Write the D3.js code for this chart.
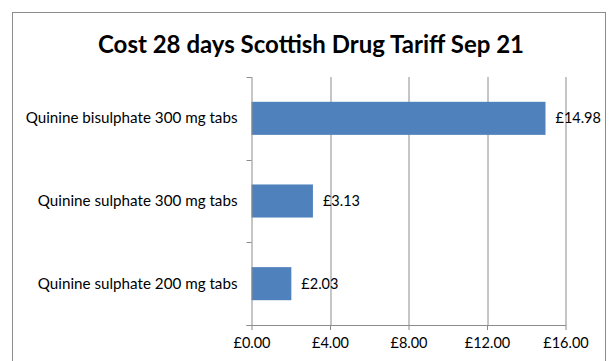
<!DOCTYPE html>
<html>
<head>
<meta charset="utf-8">
<script src="https://cdn.jsdelivr.net/npm/d3@7"></script>
<style>
  body { margin: 0; background: #fff; }
  svg { display: block; }
  svg text { font-family: Lato, "Open Sans", sans-serif; }
</style>
</head>
<body>
<div id="chart"></div>
<script>
var title = "Cost 28 days Scottish Drug Tariff Sep 21";
var categories = ["Quinine bisulphate 300 mg tabs", "Quinine sulphate 300 mg tabs", "Quinine sulphate 200 mg tabs"];
var values = [14.98, 3.13, 2.03];
var xTicks = [0, 4, 8, 12, 16];

var width = 611, height = 361;
var margin = { top: 77, right: 46, bottom: 36, left: 251.5 };
var innerW = 565.5 - margin.left, innerH = 325 - margin.top;

var svg = d3.select("#chart").append("svg")
    .attr("width", width)
    .attr("height", height);

// outer chart border
svg.append("rect")
    .attr("x", 12.5).attr("y", 12.5)
    .attr("width", 593).attr("height", 360)
    .attr("fill", "none")
    .attr("stroke", "#8c8c8c")
    .attr("stroke-width", 1);

svg.append("text")
    .attr("x", 311).attr("y", 53)
    .attr("text-anchor", "middle")
    .style("font-size", "24px")
    .style("font-weight", "bold")
    .text(title);

var g = svg.append("g").attr("transform", "translate(" + margin.left + "," + margin.top + ")");

var x = d3.scaleLinear().domain([0, 16]).range([0, innerW]);
var y = d3.scaleBand().domain(categories).range([0, innerH]).paddingInner(0.6).paddingOuter(0.3);
var yBands = d3.scaleBand().domain(categories).range([0, innerH]);

var fmt = function (d) { return "£" + d3.format(".2f")(d); };

// gridlines
g.selectAll(".grid").data(xTicks.slice(1)).enter().append("line")
    .attr("x1", function (d) { return Math.round(x(d)) + 0.5; })
    .attr("x2", function (d) { return Math.round(x(d)) + 0.5; })
    .attr("y1", 0).attr("y2", innerH)
    .attr("stroke", "#8c8c8c");

// bars
g.selectAll(".bar").data(values).enter().append("rect")
    .attr("x", 0)
    .attr("y", function (d, i) { return y(categories[i]); })
    .attr("width", function (d) { return x(d); })
    .attr("height", y.bandwidth())
    .attr("fill", "#4f81bd");

// value labels
g.selectAll(".val").data(values).enter().append("text")
    .attr("x", function (d) { return x(d) + 10; })
    .attr("y", function (d, i) { return y(categories[i]) + y.bandwidth() / 2; })
    .attr("dy", "0.35em")
    .style("font-size", "14.5px")
    .attr("fill", "#000")
    .text(fmt);

// x axis
var xAxis = g.append("g")
    .attr("transform", "translate(0," + innerH + ")")
    .call(d3.axisBottom(x).tickValues(xTicks).tickFormat(fmt).tickSize(5).tickPadding(8));
xAxis.select(".domain").attr("d", "M-5,0.5H" + (innerW + 0.5)).attr("stroke", "#8c8c8c");
xAxis.selectAll(".tick line").attr("stroke", "#8c8c8c");
xAxis.selectAll(".tick text").style("font-size", "14.5px").attr("fill", "#000");

// y axis
var yAxis = g.append("g")
    .call(d3.axisLeft(yBands).tickSize(0).tickPadding(14));
yAxis.select(".domain").attr("d", "M0.5,0V" + innerH).attr("stroke", "#8c8c8c");
yAxis.selectAll(".tick text").style("font-size", "15.2px").attr("fill", "#000");
g.selectAll(".ytick").data([0].concat(categories.map(function (c) { return yBands(c) + yBands.bandwidth(); })))
    .enter().append("line")
    .attr("x1", -5).attr("x2", 0)
    .attr("y1", function (d) { return Math.round(d) + 0.5; })
    .attr("y2", function (d) { return Math.round(d) + 0.5; })
    .attr("stroke", "#8c8c8c");
</script>
</body>
</html>
